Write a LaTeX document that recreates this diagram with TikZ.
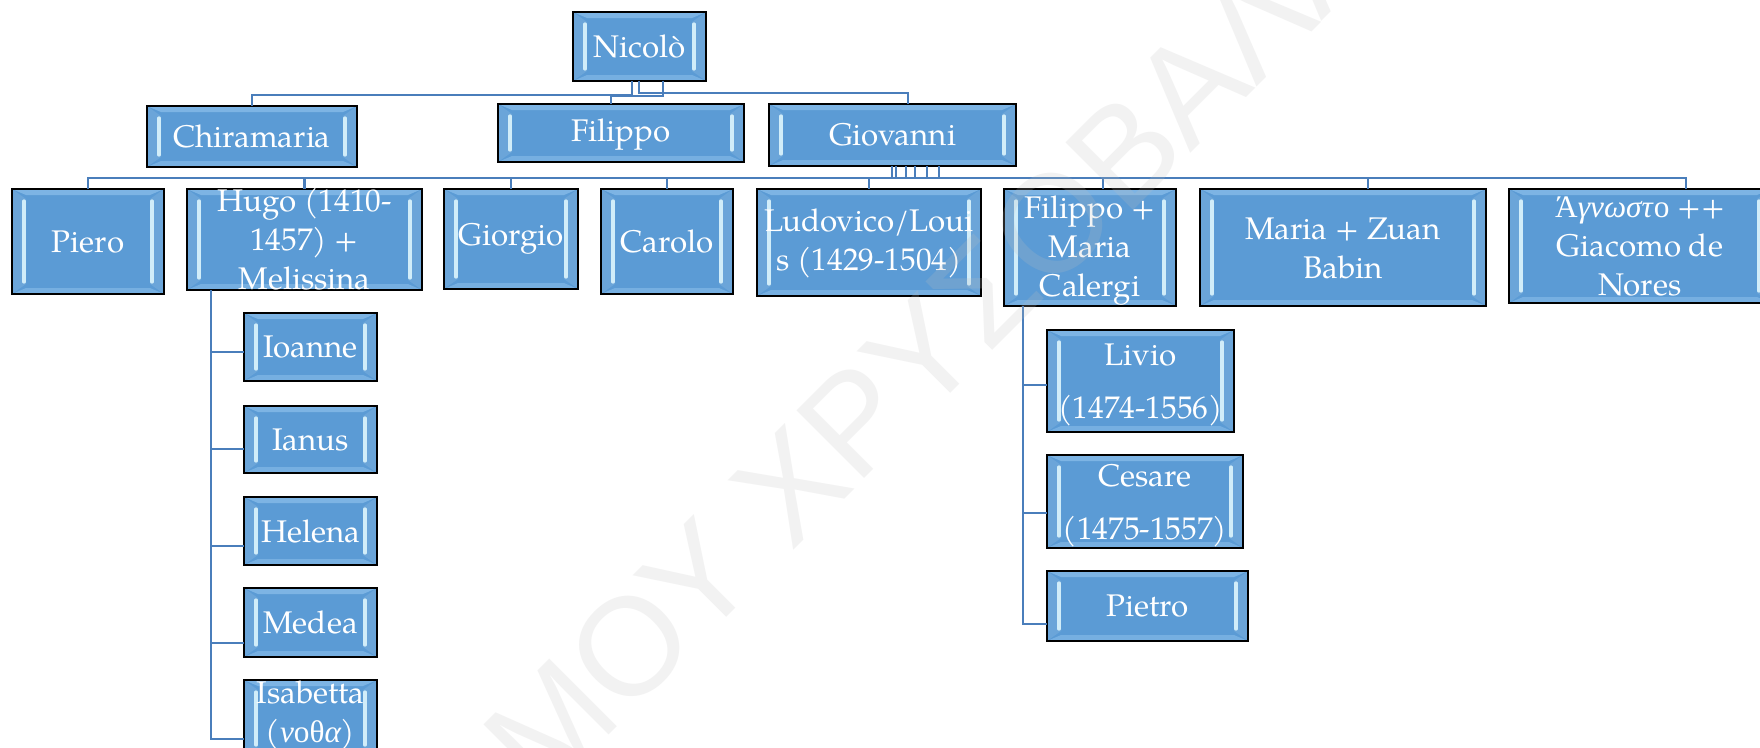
\documentclass[tikz,border=0pt]{standalone}
\usepackage{fontspec}
\setmainfont{TeX Gyre Pagella}
\newfontfamily\grk{Liberation Serif}
\newfontfamily\wmfont{Liberation Sans}
\definecolor{boxblue}{HTML}{5B9BD5}
\definecolor{connc}{HTML}{4A7EBB}
\definecolor{hilite}{HTML}{E6FBFF}
\definecolor{topc}{HTML}{8CBFEA}
\definecolor{wmc}{gray}{0.75}
\tikzset{
  box/.style={draw=black, line width=2.1pt, fill=boxblue, inner sep=0pt, outer sep=0pt,
    path picture={
      \fill[boxblue!90!white]
        (path picture bounding box.north west) -- ([shift={(14pt,-10pt)}]path picture bounding box.north west)
        -- ([shift={(14pt,10pt)}]path picture bounding box.south west) -- (path picture bounding box.south west) -- cycle;
      \fill[boxblue!90!white]
        (path picture bounding box.north east) -- ([shift={(-14pt,-10pt)}]path picture bounding box.north east)
        -- ([shift={(-14pt,10pt)}]path picture bounding box.south east) -- (path picture bounding box.south east) -- cycle;
      \fill[topc!70!boxblue]
        (path picture bounding box.north west) -- (path picture bounding box.north east)
        -- ([shift={(-14pt,-6pt)}]path picture bounding box.north east) -- ([shift={(14pt,-6pt)}]path picture bounding box.north west) -- cycle;
      \fill[topc!55!boxblue]
        (path picture bounding box.south west) -- (path picture bounding box.south east)
        -- ([shift={(-14pt,6pt)}]path picture bounding box.south east) -- ([shift={(14pt,6pt)}]path picture bounding box.south west) -- cycle;
      \draw[hilite!85!boxblue, line width=3.2pt, line cap=round]
        ([shift={(12pt,-12pt)}]path picture bounding box.north west) -- ([shift={(12pt,12pt)}]path picture bounding box.south west);
      \draw[hilite!85!boxblue, line width=3.2pt, line cap=round]
        ([shift={(-12pt,-12pt)}]path picture bounding box.north east) -- ([shift={(-12pt,12pt)}]path picture bounding box.south east);
    }},
  lbl/.style={text=white, align=center, inner sep=0pt, font=\fontsize{31.3}{39}\selectfont},
  conn/.style={draw=connc, line width=2.7pt},
  wmark/.style={text=wmc, opacity=0.2, inner sep=0pt, font=\wmfont\fontsize{139}{139}\selectfont}
}
% #1 optional downward shift of the text, then name, x1, y1, x2, y2, text
\newcommand\famBox[7][0]{%
  \pgfmathsetmacro\bw{#5-#3}\pgfmathsetmacro\bh{#6-#4}%
  \pgfmathsetmacro\bcx{(#3+#5)/2}\pgfmathsetmacro\bcy{(#4+#6)/2}%
  \node[box, minimum width=\bw pt, minimum height=\bh pt] (#2) at (\bcx,\bcy) {};
  \node[lbl, yshift={-#1pt}] (#2-t) at (#2.center) {#7};}
\begin{document}
\begin{tikzpicture}[x=1pt,y=-1pt]
\useasboundingbox (0,0) rectangle (1760,747);
\fill[white] (0,0) rectangle (1760,747);

% level 0 and 1
\famBox{nic}{573}{12}{706}{81}{Nicolò}
\famBox{chi}{147}{106}{357}{167}{Chiramaria}
\famBox[2]{fil}{498}{104}{744}{162}{Filippo}
\famBox{gio}{769}{104}{1016}{166}{Giovanni}
% level 2
\famBox{pie}{12}{189}{164}{294}{Piero}
\famBox{hug}{187}{189}{422}{290}{Hugo (1410-\\1457) +\\Melissina}
\famBox{gior}{444}{189}{578}{289}{Giorgio}
\famBox{car}{601}{189}{733}{294}{Carolo}
\famBox[1]{lud}{757}{189}{981}{296}{Ludovico/Loui\\s (1429-1504)}
\famBox[3]{fm}{1004}{189}{1176}{306}{Filippo +\\Maria\\Calergi}
\famBox[1]{mz}{1200}{189}{1486}{306}{Maria + Zuan\\Babin}
\famBox{agn}{1509}{189}{1771}{303}{{\grk Ά\textit{γνωστ}ο} ++\\Giacomo de\\Nores}
% level 3 (Hugo)
\famBox{ioa}{244}{313}{377}{381}{Ioanne}
\famBox{ian}{244}{406}{377}{473}{Ianus}
\famBox{hel}{244}{497}{377}{565}{Helena}
\famBox{med}{244}{588}{377}{657}{Medea}
\famBox[-3]{isa}{244}{680}{377}{757}{Isabetta\\({\grk\itshape ν}{\grk ο}{\grk θ}{\grk\itshape α})}
% level 3 (Filippo + Maria)
\famBox[4]{liv}{1047}{330}{1234}{432}{Livio\\[14pt](1474-1556)}
\famBox[4]{ces}{1047}{455}{1243}{548}{Cesare\\[14pt](1475-1557)}
\famBox{pet}{1047}{571}{1248}{641}{Pietro}

% connectors level 1
\coordinate (kA) at (632,95);
\coordinate (kB) at (639,93);
\coordinate (kC) at (663,96);
\coordinate (dF) at (611,0);
\coordinate (dG) at (908,0);
\draw[conn] (nic.south -| kA) -- (kA) -| (chi.north);
\draw[conn] (nic.south -| kB) -- (kB) -| (dG |- gio.north);
\draw[conn] (nic.south -| kC) -- (kC) -| (dF |- fil.north);

% connectors level 2
\coordinate (s1) at (892,178);
\coordinate (s2) at (896,178);
\coordinate (s3) at (906,178);
\coordinate (s4) at (915,178);
\coordinate (s5) at (927,178);
\coordinate (s6) at (939,178);
\coordinate (dFM) at (1103,0);
\coordinate (dMZ) at (1368,0);
\coordinate (dAG) at (1686,0);
\draw[conn] (gio.south -| s1) -- (s1) -| (pie.north);
\draw[conn] (gio.south -| s2) -- (s2) -| (hug.north);
\draw[conn] (gio.south -| s3) -- (s3) -| (gior.north);
\draw[conn] (gio.south -| s4) -- (s4) -| (car.north);
\draw[conn] (gio.south -| s5) -- (s5) -| (lud.north);
\draw[conn] (gio.south -| s6) -- (s6) -| (dFM |- fm.north);
\draw[conn] (gio.south -| s6) -- (s6) -| (dMZ |- mz.north);
\draw[conn] (gio.south -| s1) -- (s1) -| (dAG |- agn.north);

% connectors level 3
\coordinate (hs) at (211,0);
\foreach \n/\yy in {ioa/352, ian/449, hel/546, med/643, isa/739}
  \draw[conn] (hs |- hug.south) |- (\n.west |- 0,\yy);
\coordinate (fs) at (1023,0);
\foreach \n/\yy in {liv/385, ces/513, pet/624}
  \draw[conn] (fs |- fm.south) |- (\n.west |- 0,\yy);

% watermark
\node[wmark, rotate=45, anchor=base west] (wm) at (543,800.6) {ΜΟΥ ΧΡΥΣΟΒΑΛΑΝΤΟΥ};
\end{tikzpicture}
\end{document}
